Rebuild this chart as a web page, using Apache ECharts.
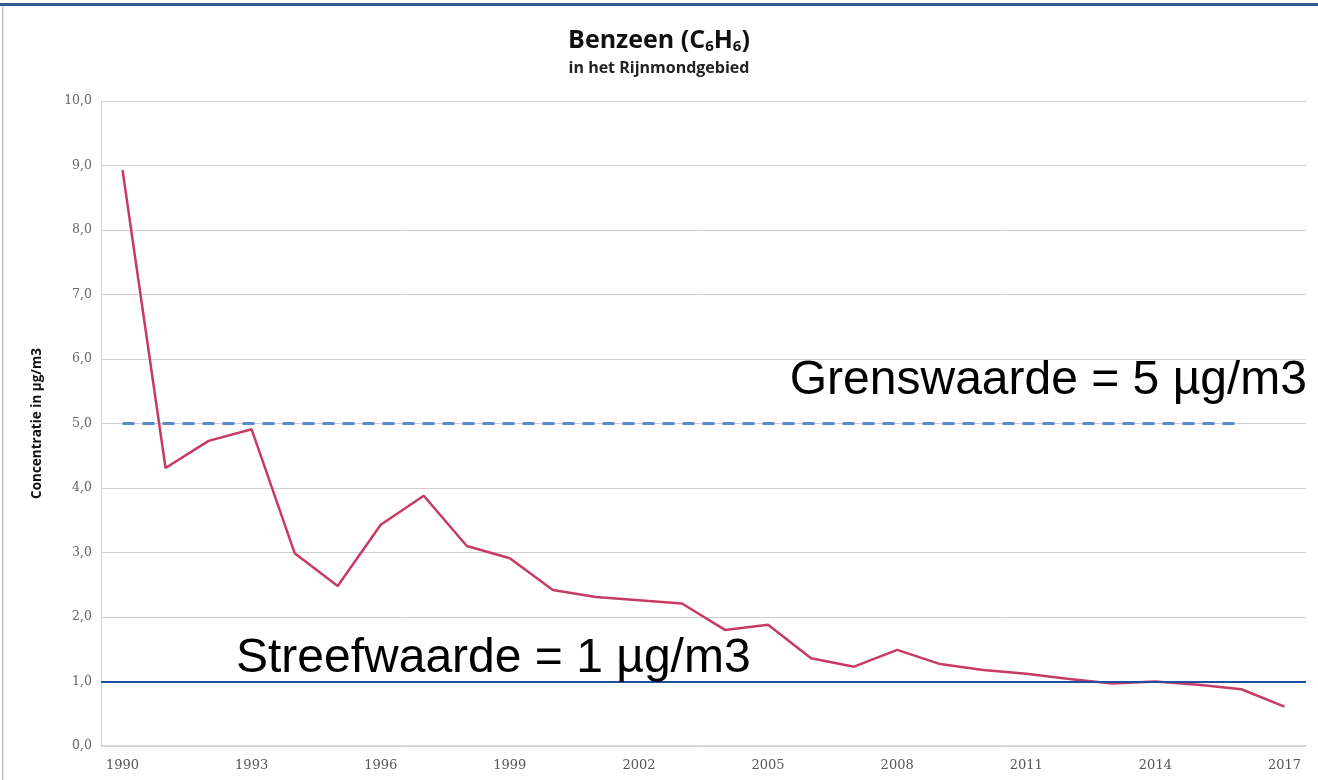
<!DOCTYPE html>
<html>
<head>
<meta charset="utf-8">
<script src="https://cdn.jsdelivr.net/npm/echarts@6/dist/echarts.min.js"></script>
<style>
html,body{margin:0;padding:0;background:#fff;}
#chart{width:1318px;height:780px;}
</style>
</head>
<body>
<div id="chart"></div>
<script>
var years = ['1990','1991','1992','1993','1994','1995','1996','1997','1998','1999','2000','2001','2002','2003','2004','2005','2006','2007','2008','2009','2010','2011','2012','2013','2014','2015','2016','2017'];
var benzeen = [8.93,4.31,4.73,4.91,2.99,2.48,3.43,3.88,3.10,2.91,2.42,2.31,2.26,2.21,1.80,1.88,1.36,1.23,1.49,1.27,1.18,1.12,1.04,0.97,1.00,0.95,0.88,0.61];
var grenswaarde = [5,5,5,5,5,5,5,5,5,5,5,5,5,5,5,5,5,5,5,5,5,5,5,5,5,5,5,null];
var streefwaarde = 1;
var yTicks = [0,1,2,3,4,5,6,7,8,9,10];

var chart = echarts.init(document.getElementById('chart'));
chart.setOption({
  animation: false,
  backgroundColor: '#ffffff',
  title: {
    text: '{a|Benzeen (C}{s|6}{a|H}{s|6}{a|)}',
    subtext: 'in het Rijnmondgebied',
    left: 'center',
    top: 23,
    itemGap: 7,
    textStyle: {
      rich: {
        a: {fontFamily: 'Open Sans', fontWeight: 'bold', fontSize: 25, color: '#111'},
        s: {fontFamily: 'Open Sans', fontWeight: 'bold', fontSize: 15, color: '#111', padding: [11,0,0,0]}
      }
    },
    subtextStyle: {fontFamily: 'Open Sans', fontWeight: 'bold', fontSize: 16, color: '#222'}
  },
  grid: {left: 101, right: 12, top: 101, bottom: 34, containLabel: false},
  xAxis: {
    type: 'category',
    data: years,
    boundaryGap: true,
    axisTick: {show: false},
    axisLine: {lineStyle: {color: '#d0d0d0', width: 1.5}},
    axisLabel: {interval: 2, color: '#555', fontSize: 13, fontFamily: 'DejaVu Serif', margin: 13}
  },
  yAxis: {
    type: 'value',
    min: 0, max: 10, interval: 1,
    name: 'Concentratie in µg/m3',
    nameLocation: 'middle',
    nameGap: 57,
    nameTextStyle: {fontFamily: 'Open Sans', fontWeight: 'bold', fontSize: 13.5, color: '#111'},
    axisLine: {show: true, lineStyle: {color: '#d0d0d0'}},
    axisTick: {show: false},
    splitLine: {lineStyle: {color: '#cfcfcf', width: 1}},
    axisLabel: {
      color: '#666', fontSize: 12.5, fontFamily: 'DejaVu Serif', margin: 9,
      formatter: function (v) { return yTicks.indexOf(v) >= 0 ? v.toFixed(1).replace('.', ',') : ''; }
    }
  },
  series: [
    {
      name: 'Grenswaarde',
      type: 'line',
      data: grenswaarde,
      symbol: 'none',
      lineStyle: {color: '#5a8ccc', width: 3, type: [12, 8]},
      z: 2
    },
    {
      name: 'Benzeen',
      type: 'line',
      data: benzeen,
      symbol: 'none',
      lineStyle: {color: '#c73b62', width: 2.5},
      z: 3,
      markLine: {
        silent: true,
        symbol: 'none',
        label: {show: false},
        lineStyle: {color: '#1f4fa3', width: 2, type: 'solid'},
        data: [{yAxis: streefwaarde}]
      }
    }
  ],
  graphic: [
    {type: 'rect', left: 0, top: 3, shape: {width: 1318, height: 3}, style: {fill: '#2d5a92'}},
    {type: 'rect', left: 2, top: 6, shape: {width: 1.5, height: 774}, style: {fill: '#c4c4c4'}},
    {type: 'text', right: 11, top: 357, style: {text: 'Grenswaarde = 5 µg/m3', fontFamily: 'Liberation Sans', fontSize: 48, fill: '#000'}},
    {type: 'text', left: 236, top: 635, style: {text: 'Streefwaarde = 1 µg/m3', fontFamily: 'Liberation Sans', fontSize: 48, fill: '#000'}, z: 100}
  ]
});
</script>
</body>
</html>
